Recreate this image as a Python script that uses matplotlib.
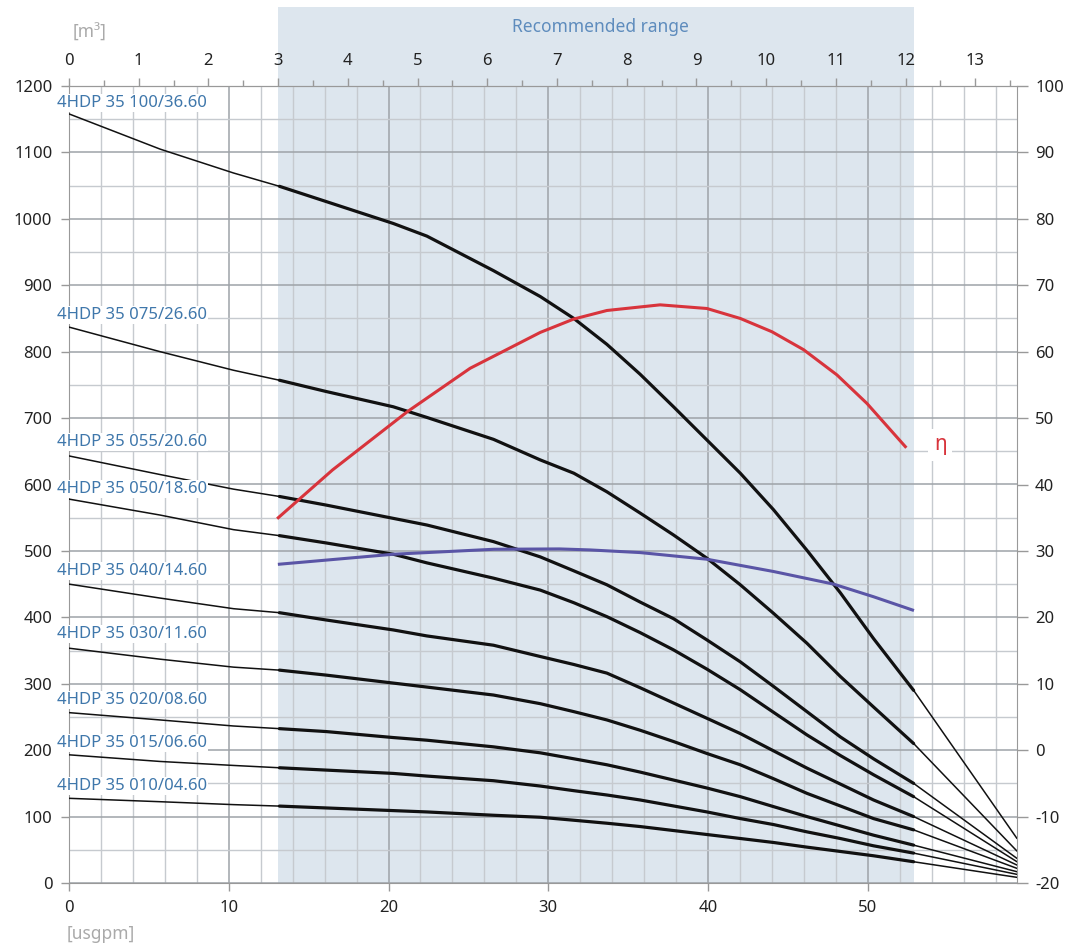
import matplotlib
matplotlib.use("Agg")
import matplotlib.pyplot as plt
import matplotlib.transforms as mtransforms
from matplotlib.patches import Rectangle
from matplotlib.ticker import MultipleLocator, FixedLocator

plt.rcParams['font.family'] = ['Noto Sans', 'DejaVu Sans']
plt.rcParams['axes.unicode_minus'] = False

# ---------------- data ----------------
flow_usgpm = [0, 5.7, 10.3, 13.17, 16.1, 20.3, 22.4, 26.57, 29.5, 31.6, 33.67,
              35.75, 37.84, 39.93, 42.02, 44.1, 46.19, 48.28, 50.36, 52.87, 59.34]

models = ["4HDP 35 100/36.60", "4HDP 35 075/26.60", "4HDP 35 055/20.60",
          "4HDP 35 050/18.60", "4HDP 35 040/14.60", "4HDP 35 030/11.60",
          "4HDP 35 020/08.60", "4HDP 35 015/06.60", "4HDP 35 010/04.60"]

head_100 = [1158, 1105, 1069, 1049, 1026, 993, 974, 922, 883, 850, 811,
            766, 717, 667, 617, 562, 501, 437, 368, 290, 67]
head_075 = [837, 800, 772, 757, 740, 717, 701, 668, 637, 617, 589,
            557, 524, 489, 449, 406, 361, 311, 265, 210, 48]
head_055 = [643, 615, 593, 582, 569, 549, 539, 514, 491, 470, 449,
            423, 398, 366, 333, 296, 258, 220, 187, 150, 37]
head_050 = [578, 554, 532, 523, 512, 495, 482, 459, 441, 422, 401,
            377, 351, 322, 291, 257, 223, 192, 163, 130, 32]
head_040 = [450, 429, 413, 407, 396, 381, 372, 358, 341, 329, 316,
            294, 271, 248, 225, 199, 173, 149, 125, 100, 27]
head_030 = [353.5, 337, 325, 320.5, 313, 301, 295, 283, 270, 258, 245.5,
            230, 213, 195, 178, 157, 135, 116, 97, 80, 22]
head_020 = [256.5, 245.5, 236.4, 232.4, 228, 219, 215, 205, 196, 187, 178,
            167, 155, 143, 130, 115, 100, 86, 72, 57, 17]
head_015 = [193, 183, 177, 173.5, 170, 165, 161, 154, 146, 139, 132.5,
            125, 116, 107, 97, 88, 77, 67, 56, 45, 13]
head_010 = [127.5, 122.4, 118, 115.8, 113, 109, 107, 102, 99, 94.5, 90,
            85, 79, 73, 67, 61, 54, 47.5, 41, 32, 8.5]

heads = [head_100, head_075, head_055, head_050, head_040,
         head_030, head_020, head_015, head_010]

eff_flow = [13.1, 16.5, 21.2, 25.11, 29.5, 31.58, 33.67, 37.0, 39.93, 42.02,
            44.0, 45.98, 48.07, 49.95, 52.35]
eff_vals = [35.0, 42.2, 51.0, 57.5, 62.9, 64.9, 66.2, 67.05, 66.5, 65.0,
            63.0, 60.3, 56.5, 52.2, 45.7]

pow_flow = [13.17, 20.3, 26.6, 30.7, 32.6, 35.75, 39.93, 44.1, 47.86, 50.36, 52.8]
pow_vals = [28.0, 29.5, 30.25, 30.3, 30.15, 29.75, 28.75, 26.9, 25.0, 23.1, 21.1]

rec_start, rec_end = 13.09, 52.87          # usgpm
usgpm_per_m3 = 4.364
x_ticks_usgpm = [0, 10, 20, 30, 40, 50]
x_ticks_m3 = list(range(0, 14))
y_ticks_left = list(range(0, 1300, 100))
y_ticks_right = list(range(-20, 110, 10))

# ---------------- layout ----------------
W, H = 1067, 946
fig = plt.figure(figsize=(W / 100, H / 100), dpi=100)
L, R, T, B = 69, 1017, 86, 883
ax = fig.add_axes([L / W, 1 - B / H, (R - L) / W, (B - T) / H])
ax.set_xlim(0, 59.34)
ax.set_ylim(0, 1200)

shade = '#dde6ee'
ax.axvspan(rec_start, rec_end, color=shade, zorder=0, lw=0)
trans = mtransforms.blended_transform_factory(ax.transData, ax.transAxes)
ax.add_patch(Rectangle((rec_start, 1.0), rec_end - rec_start, (T - 7) / (B - T),
                       transform=trans, clip_on=False, color=shade, lw=0, zorder=0))
ax.text((rec_start + rec_end) / 2 + 0.3, 1 + (T - 27) / (B - T), "Recommended range",
        transform=trans, ha='center', va='center', color='#5e8cbd', fontsize=12.5)

ax.set_axisbelow(True)
ax.xaxis.set_major_locator(FixedLocator(x_ticks_usgpm))
ax.xaxis.set_minor_locator(MultipleLocator(2))
ax.yaxis.set_major_locator(FixedLocator(y_ticks_left))
ax.yaxis.set_minor_locator(MultipleLocator(50))
ax.grid(which='major', color='#9ea3a8', lw=1.1)
ax.grid(which='minor', color='#c6cacf', lw=1.0)
ax.tick_params(which='minor', length=0)
ax.tick_params(which='major', length=6, width=1, color='#999999',
               labelsize=12, labelcolor='#222222', pad=6)
for s in ax.spines.values():
    s.set_color('#999999')

# pump curves
for h in heads:
    ax.plot(flow_usgpm[:4], h[:4], color='#111111', lw=1.1, zorder=3,
            solid_capstyle='round', solid_joinstyle='round')
    ax.plot(flow_usgpm[3:20], h[3:20], color='#111111', lw=2.3, zorder=3,
            solid_capstyle='round', solid_joinstyle='round')
    ax.plot(flow_usgpm[19:], h[19:], color='#111111', lw=1.1, zorder=3,
            solid_capstyle='round', solid_joinstyle='round')

label_y_px = [103, 315, 442, 489, 571, 634, 700, 743, 786]
for name, ypx in zip(models, label_y_px):
    ax.text((57 - L) / 15.97, (B - ypx) / ((B - T) / 1200), name, ha='left', va='center',
            color='#3f77ab', fontsize=12, zorder=5, clip_on=False,
            bbox=dict(facecolor='white', edgecolor='none', pad=0.5))

# right axis
ax2 = ax.twinx()
ax2.set_ylim(-20, 100)
ax2.yaxis.set_major_locator(FixedLocator(y_ticks_right))
ax2.tick_params(length=8, width=1, color='#999999', labelsize=12,
                labelcolor='#222222', pad=5)
for s in ax2.spines.values():
    s.set_visible(False)
ax2.plot(eff_flow, eff_vals, color='#d8343c', lw=2.2, zorder=4, solid_joinstyle='round')
ax2.plot(pow_flow, pow_vals, color='#5a55a6', lw=2.2, zorder=4, solid_joinstyle='round')
ax2.text((940 - L) / 15.97, 46.0, "η", color='#d8343c', fontsize=15, ha='center',
         va='center', zorder=6,
         bbox=dict(facecolor='white', edgecolor='none', pad=4))

# top axis (m3/h)
sec = ax.secondary_xaxis('top', functions=(lambda q: q / usgpm_per_m3,
                                            lambda m: m * usgpm_per_m3))
sec.xaxis.set_major_locator(FixedLocator(x_ticks_m3))
sec.xaxis.set_minor_locator(MultipleLocator(0.5))
sec.tick_params(which='major', length=6, width=1, color='#999999',
                labelsize=12, labelcolor='#222222', pad=6)
sec.tick_params(which='minor', length=4, width=1, color='#999999')
sec.spines['top'].set_color('#999999')

fig.text(90 / W, 1 - 33 / H, "[m³]", color='#aaaaaa', fontsize=12.5, ha='center', va='center')
fig.text(101 / W, 1 - 934 / H, "[usgpm]", color='#aaaaaa', fontsize=12.5, ha='center', va='center')

fig.savefig("out.png", dpi=100, facecolor='white')
